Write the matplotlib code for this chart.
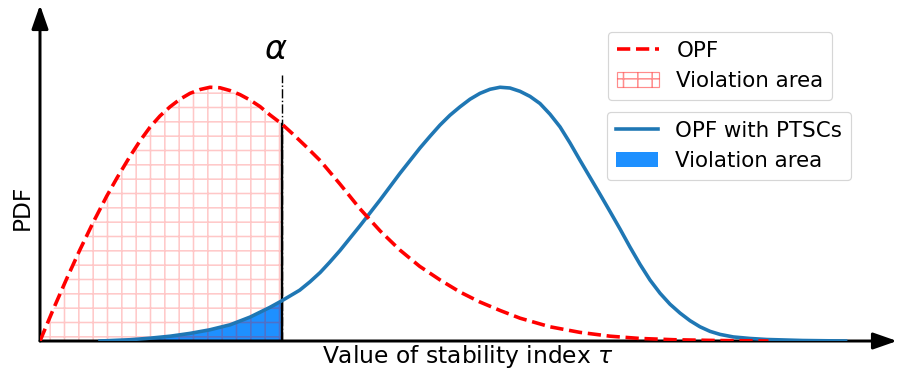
import numpy as np
import matplotlib.pyplot as plt
from matplotlib.lines import Line2D
from matplotlib.patches import Patch

plt.rcParams['hatch.linewidth'] = 1.3

# PDF of the stability index, OPF only (skewed)
red_x = [0.00, 0.155, 0.311, 0.467, 0.622, 0.778, 0.90, 1.05, 1.167, 1.284,
         1.40, 1.517, 1.634, 1.75, 1.867, 1.984, 2.10, 2.217, 2.334, 2.45,
         2.567, 2.684, 2.82, 2.95, 3.10, 3.27, 3.50, 3.73, 3.97, 4.20, 4.43,
         4.67, 4.90, 5.13, 5.37, 5.60, 5.95, 6.30, 6.65, 7.00, 7.40, 7.90,
         8.50]
red_y = [0.0, 0.125, 0.245, 0.36, 0.468, 0.570, 0.643, 0.727, 0.788, 0.842,
         0.886, 0.922, 0.952, 0.975, 0.990, 0.999, 0.997, 0.986, 0.970, 0.949,
         0.923, 0.890, 0.855, 0.815, 0.767, 0.710, 0.618, 0.522, 0.433, 0.358,
         0.294, 0.240, 0.193, 0.154, 0.120, 0.090, 0.056, 0.034, 0.019, 0.010,
         0.005, 0.002, 0.0]

# PDF with PTSCs
blue_x = [0.70, 1.05, 1.28, 1.52, 1.75, 1.98, 2.22, 2.45, 2.68, 2.82, 2.92,
          3.03, 3.15, 3.27, 3.38, 3.50, 3.61, 3.73, 3.85, 3.97, 4.20, 4.434,
          4.551, 4.667, 4.784, 4.901, 5.018, 5.134, 5.251, 5.368, 5.484,
          5.601, 5.718, 5.834, 5.951, 6.068, 6.184, 6.30, 6.417, 6.534, 6.651,
          6.768, 6.884, 7.001, 7.118, 7.235, 7.351, 7.468, 7.585, 7.701,
          7.818, 7.935, 8.09, 8.285, 8.479, 8.90, 9.40]
blue_y = [0.0, 0.005, 0.011, 0.019, 0.030, 0.044, 0.064, 0.094, 0.132, 0.158,
          0.178, 0.200, 0.233, 0.270, 0.310, 0.356, 0.402, 0.452, 0.504, 0.556,
          0.660, 0.760, 0.806, 0.850, 0.889, 0.922, 0.952, 0.975, 0.991, 0.999,
          0.996, 0.983, 0.963, 0.935, 0.893, 0.843, 0.780, 0.712, 0.645, 0.578,
          0.510, 0.441, 0.370, 0.302, 0.240, 0.188, 0.145, 0.110, 0.080, 0.056,
          0.038, 0.026, 0.016, 0.010, 0.006, 0.002, 0.0]

alpha_x = 2.82   # stability threshold

rx, ry = np.array(red_x), np.array(red_y)
bx, by = np.array(blue_x), np.array(blue_y)

fig = plt.figure(figsize=(899/86, 374/86), dpi=86)
ax = fig.add_axes([40/899, 33/374, 857/899, 336/374])
ax.set_xlim(0, 10)
ax.set_ylim(0, 336/254)
for s in ax.spines.values():
    s.set_visible(False)
ax.set_xticks([])
ax.set_yticks([])

# violation areas (left of alpha)
mb = bx <= alpha_x + 1e-9
mr = rx <= alpha_x + 1e-9
ax.fill_between(bx[mb], by[mb], color='dodgerblue', lw=0, zorder=1)
ax.fill_between(rx[mr], ry[mr], facecolor='none', edgecolor='red',
                alpha=0.22, hatch='+', lw=0, zorder=2)

ax.plot(bx, by, color='#1f77b4', lw=3.0, zorder=4)
ax.plot(rx, ry, 'r--', lw=3.0, zorder=5)

# threshold line
red_at_alpha = ry[np.argmin(abs(rx - alpha_x))]
ax.plot([alpha_x, alpha_x], [0, 1.047], 'k-.', lw=1.2, zorder=3)
ax.plot([alpha_x, alpha_x], [0, red_at_alpha], 'k-', lw=2, zorder=3)
ax.text(alpha_x - 0.07, 1.146, r'$\alpha$', fontsize=28,
        ha='center', va='center')

# axes as arrows
arr = dict(arrowstyle='-|>,head_length=0.4,head_width=0.14', lw=2.5,
           color='k', mutation_scale=42, shrinkA=0, shrinkB=0)
ax.annotate('', xy=(1, 0), xytext=(0, 0), xycoords='axes fraction',
            arrowprops=arr, annotation_clip=False)
ax.annotate('', xy=(0, 1), xytext=(0, 0), xycoords='axes fraction',
            arrowprops=arr, annotation_clip=False)

fig.text(468/899, 1-357/374, r'Value of stability index $\tau$',
         ha='center', va='center', fontsize=19.6)
fig.text(22/899, 1-207/374, 'PDF', rotation=90, ha='center', va='center',
         fontsize=19.6)

# legends
h1 = [Line2D([], [], color='red', ls='--', lw=3.0),
      Patch(facecolor='none', edgecolor='red', alpha=0.45, hatch='+')]
h2 = [Line2D([], [], color='#1f77b4', lw=3.0),
      Patch(facecolor='dodgerblue', edgecolor='none')]
leg1 = ax.legend(h1, ['OPF', 'Violation area'], loc='upper left',
                 bbox_to_anchor=(608/899, 1-32/374),
                 bbox_transform=fig.transFigure, borderaxespad=0,
                 fontsize=17.9, handlelength=2.0, handletextpad=0.8)
ax.add_artist(leg1)
ax.legend(h2, ['OPF with PTSCs', 'Violation area'], loc='upper left',
          bbox_to_anchor=(607/899, 1-112/374),
          bbox_transform=fig.transFigure, borderaxespad=0,
          fontsize=17.9, handlelength=2.0, handletextpad=0.8)

fig.savefig('out.png', dpi=86)
